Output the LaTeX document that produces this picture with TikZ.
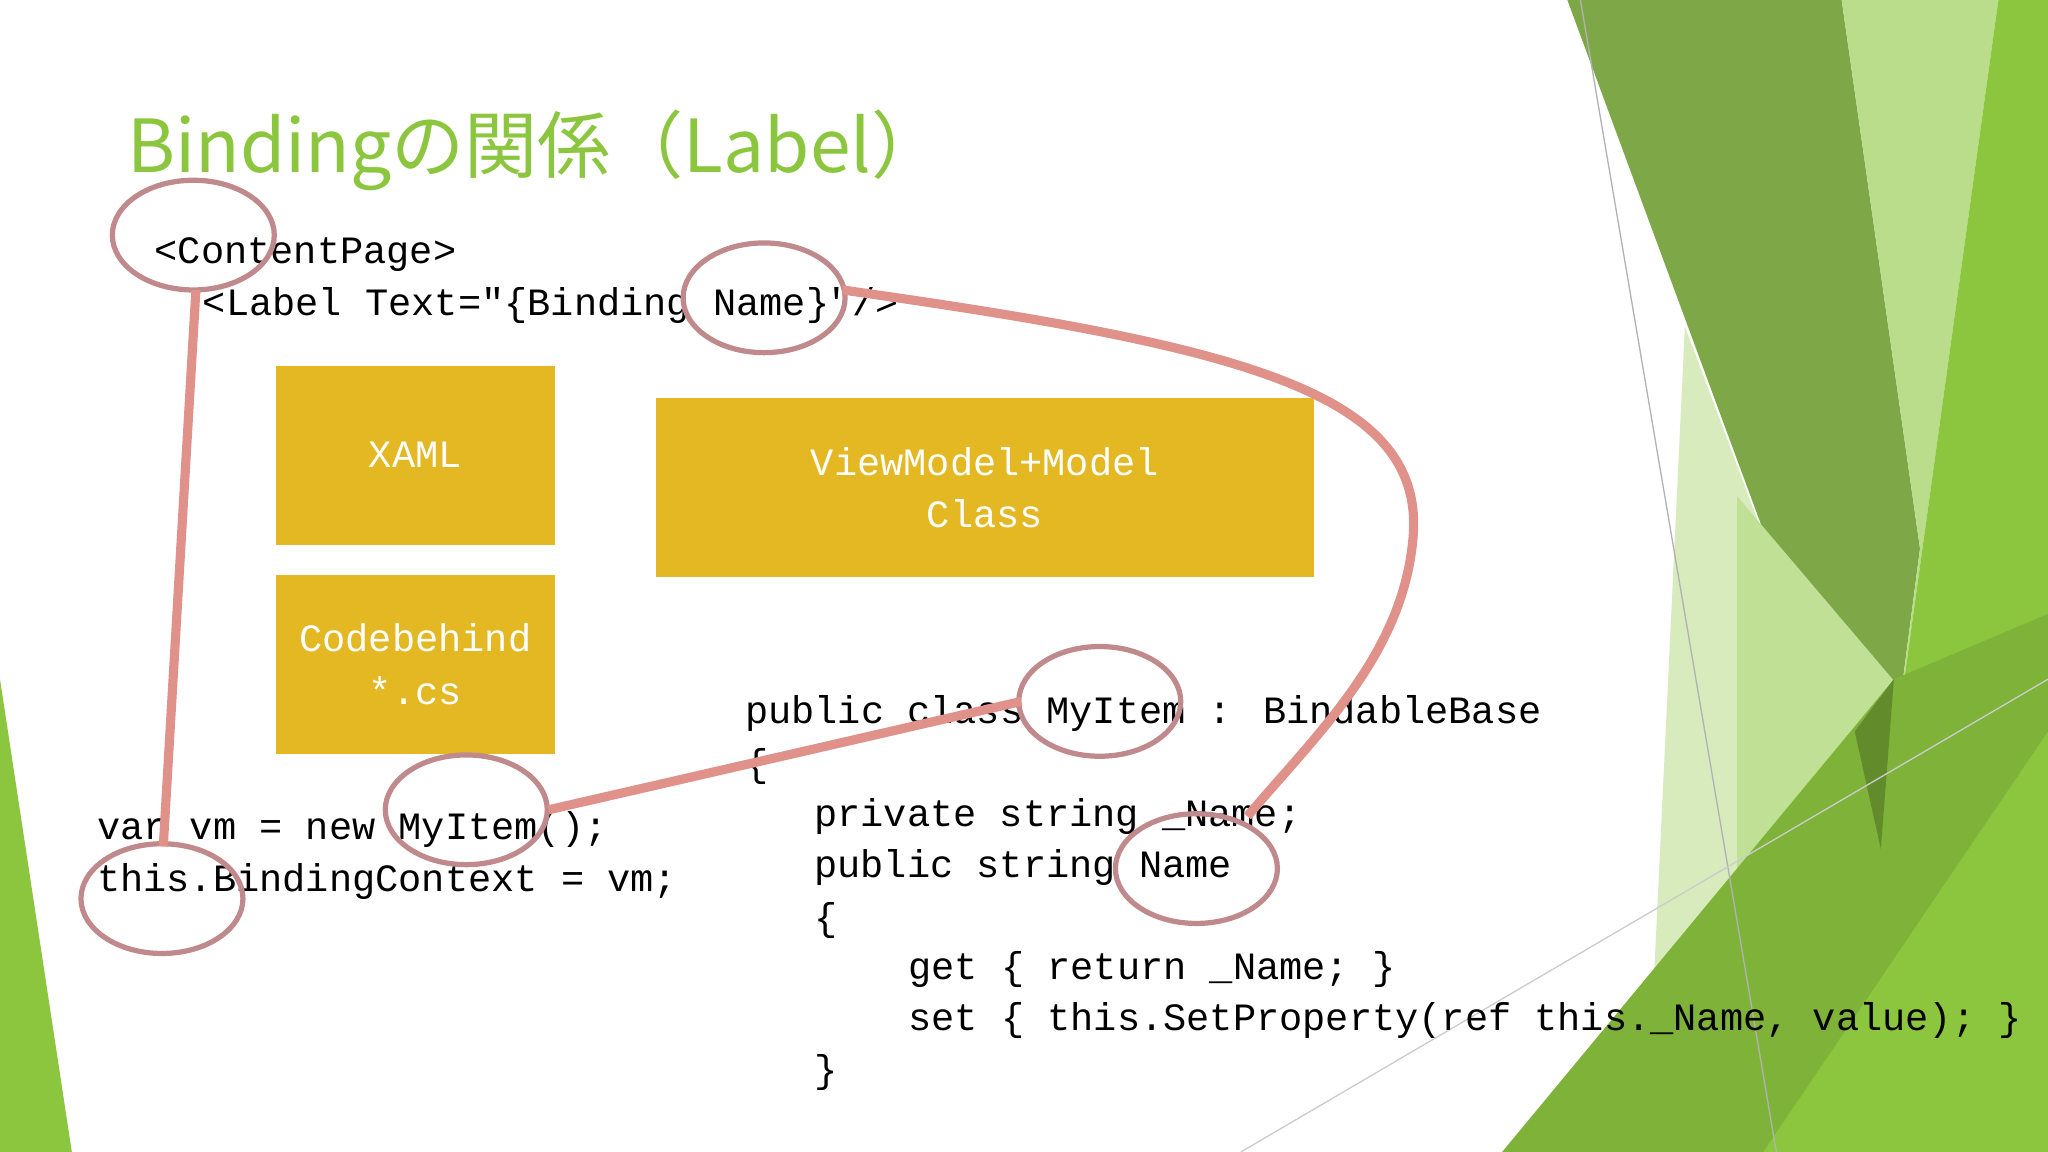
\documentclass[tikz,border=0pt]{standalone}
\usepackage{fontspec}
\defaultfontfeatures{}
\setmainfont{Liberation Mono}[Ligatures=ResetAll]
\newfontfamily\ttl{Noto Sans CJK JP}
\newcommand{\sq}{\XeTeXglyph\XeTeXcharglyph"22\relax}
\usetikzlibrary{shapes.geometric}
\definecolor{gold}{HTML}{E4B823}
\definecolor{ring}{HTML}{C08A8C}
\definecolor{link}{HTML}{E0928A}
\definecolor{ttlgreen}{HTML}{8CC63F}
\begin{document}
\begin{tikzpicture}[x=0.5pt,y=-0.5pt,
  code/.style={anchor=west,inner sep=0,font=\fontsize{14.8}{16}\selectfont},
  box/.style={fill=gold,draw=none,text=white,align=center,font=\fontsize{14.8}{20}\selectfont},
  ring/.style={ellipse,draw=ring,line width=2pt,minimum width=62pt,minimum height=42pt,inner sep=0},
  link/.style={draw=link,line width=3.5pt}]
\useasboundingbox (0,0) rectangle (1568,882);
\fill[white] (0,0) rectangle (1568,882);
% background decoration
\fill[ttlgreen!80!black!90] (1200,0) -- (1410,0) -- (1470,420) -- (1440,650) -- cycle;
\fill[ttlgreen!60!white] (1410,0) -- (1530,0) -- (1440,650) -- (1470,420) -- cycle;
\fill[ttlgreen] (1530,0) -- (1568,0) -- (1568,600) -- (1440,650) -- cycle;
\fill[ttlgreen!35!white] (1290,250) -- (1440,650) -- (1330,882) -- (1260,882) -- cycle;
\fill[ttlgreen!55!white] (1330,380) -- (1500,580) -- (1440,882) -- (1330,882) -- cycle;
\fill[ttlgreen!90!black] (1150,882) -- (1450,520) -- (1568,470) -- (1568,882) -- cycle;
\fill[ttlgreen!70!black] (1420,560) -- (1450,520) -- (1440,650) -- cycle;
\fill[ttlgreen] (1350,882) -- (1568,560) -- (1568,882) -- cycle;
\draw[gray!60,line width=0.5pt] (1210,0) -- (1360,882);
\draw[gray!40,line width=0.5pt] (950,882) -- (1568,520);
\fill[ttlgreen] (0,520) -- (0,882) -- (55,882) -- cycle;
% title
\node[anchor=west,inner sep=0,text=ttlgreen,font=\ttl\fontsize{28}{30}\selectfont] (title) at (97,115) {Bindingの関係（Label）};
% boxes
\node[box,minimum width=107pt,minimum height=68.5pt] (xaml) at (318,348.5) {XAML};
\node[box,minimum width=107pt,minimum height=68.5pt] (cb) at (318,508.5) {Codebehind\\*.cs};
\node[box,minimum width=252pt,minimum height=68.5pt] (vm) at (754,373.5) {ViewModel+Model\\Class};
% code
\node[code] (c1) at (118,195) {<ContentPage>};
\node[code] (c2) at (155,234) {<Label Text=\sq\{Binding Name\}\sq/>};
\node[code] (c3) at (74,635) {var vm = new MyItem();};
\node[code] (c4) at (74,675) {this.BindingContext = vm;};
\node[code] (d1) at (570,546) {public class MyItem : BindableBase};
\node[code] (d2) at (570,587) {\{};
\node[code] (d3) at (623,625) {private string \_Name;};
\node[code] (d4) at (623,664) {public string Name};
\node[code] (d5) at (623,705) {\{};
\node[code] (d6) at (695,742) {get \{ return \_Name; \}};
\node[code] (d7) at (695,781) {set \{ this.SetProperty(ref this.\_Name, value); \}};
\node[code] (d8) at (623,821) {\}};
% rings
\node[ring] (r1) at (148,180) {};
\node[ring] (r2) at (585,228) {};
\node[ring] (r3) at (842,537) {};
\node[ring] (r4) at (357,620) {};
\node[ring] (r5) at (124,688) {};
\node[ring] (r6) at (916,665) {};
% links
\coordinate (a1) at (150,222);
\coordinate (a2) at (125,648);
\coordinate (b1) at (420,620);
\coordinate (b2) at (782,537);
\coordinate (e1) at (645,222);
\coordinate (e2) at (955,625);
\draw[link] (a1) -- (a2);
\draw[link] (b1) -- (b2);
\draw[link] (e1) .. controls (950,265) and (1090,300) .. (1082,410) .. controls (1075,500) and (1010,560) .. (e2);
\end{tikzpicture}
\end{document}
